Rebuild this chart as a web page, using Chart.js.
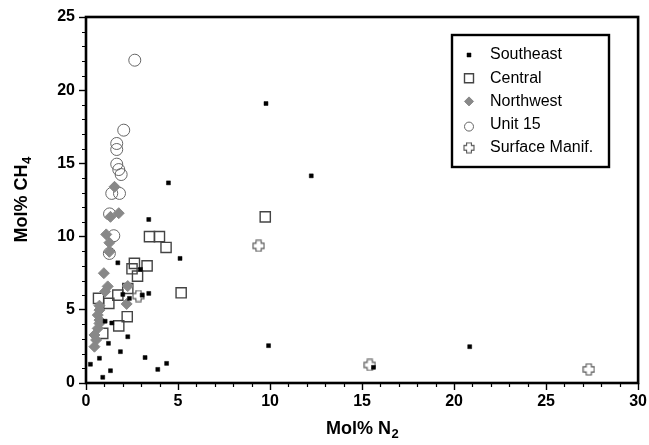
<!DOCTYPE html>
<html lang="en">
<head>
<meta charset="utf-8">
<title>Mol% CH4 vs Mol% N2</title>
<script src="https://cdn.jsdelivr.net/npm/chart.js@4.4.1/dist/chart.umd.min.js"></script>
<style>
  html, body { margin: 0; padding: 0; background: #fff; }
</style>
</head>
<body>
<canvas id="gasChart" width="649" height="445"></canvas>
<script>
// values, mol% N2 (x) and mol% CH4 (y)
var southeastN2  = [9.78, 12.24, 4.48, 3.41, 1.73, 5.11, 2.96, 2.00, 2.36, 3.05, 3.41, 1.04, 1.40, 2.27, 1.22, 1.87, 0.73, 3.21, 0.24, 1.33, 0.91, 3.90, 4.38, 9.92, 20.85, 15.62];
var southeastCH4 = [19.09, 14.15, 13.67, 11.17, 8.21, 8.51, 7.76, 6.05, 5.78, 6.00, 6.12, 4.22, 4.10, 3.16, 2.71, 2.14, 1.69, 1.74, 1.28, 0.84, 0.39, 0.93, 1.34, 2.55, 2.48, 1.07];

var centralN2  = [9.74, 3.45, 3.99, 4.35, 2.63, 2.50, 3.32, 2.80, 5.17, 2.27, 1.73, 0.68, 1.24, 2.24, 1.78, 0.91];
var centralCH4 = [11.35, 10.00, 10.00, 9.26, 8.17, 7.80, 8.00, 7.30, 6.16, 6.46, 6.00, 5.78, 5.44, 4.53, 3.90, 3.39];

var northwestN2  = [1.55, 1.33, 1.78, 1.10, 1.27, 1.27, 0.97, 1.18, 1.04, 2.27, 2.21, 0.73, 0.73, 0.64, 0.73, 0.73, 0.64, 0.46, 0.55, 0.46];
var northwestCH4 = [13.40, 11.35, 11.60, 10.15, 9.58, 8.96, 7.50, 6.60, 6.25, 6.62, 5.40, 5.28, 4.98, 4.64, 4.30, 4.07, 3.73, 3.28, 2.94, 2.48];

var unit15N2  = [2.65, 2.05, 1.67, 1.67, 1.67, 1.78, 1.91, 1.40, 1.82, 1.28, 1.51, 1.27];
var unit15CH4 = [22.05, 17.27, 16.36, 15.95, 14.95, 14.58, 14.24, 12.95, 12.95, 11.55, 10.06, 8.85];

var surfaceN2  = [2.85, 9.38, 15.42, 27.32];
var surfaceCH4 = [5.94, 9.37, 1.23, 0.93];

var xTicks = [0, 5, 10, 15, 20, 25, 30];
var yTicks = [0, 5, 10, 15, 20, 25];

function pairs(xs, ys) {
  return xs.map(function (x, i) { return { x: x, y: ys[i] }; });
}

// outlined "plus" marker used for the surface manifold samples
function makePlus(size, color) {
  var c = document.createElement('canvas');
  c.width = size; c.height = size;
  var g = c.getContext('2d');
  var m = size / 2, a = size * 0.2, l = size / 2 - 1;
  g.beginPath();
  g.moveTo(m - a, m - l); g.lineTo(m + a, m - l); g.lineTo(m + a, m - a);
  g.lineTo(m + l, m - a); g.lineTo(m + l, m + a); g.lineTo(m + a, m + a);
  g.lineTo(m + a, m + l); g.lineTo(m - a, m + l); g.lineTo(m - a, m + a);
  g.lineTo(m - l, m + a); g.lineTo(m - l, m - a); g.lineTo(m - a, m - a);
  g.closePath();
  g.fillStyle = '#fff'; g.fill();
  g.strokeStyle = color; g.lineWidth = 1.1; g.stroke();
  return c;
}
var plusImg = makePlus(13, '#555');
var plusSmall = makePlus(12, '#555');

var boldFont = "'Liberation Sans Narrow', 'Liberation Sans', Arial, sans-serif";
var plainFont = "'Liberation Sans', Arial, sans-serif";

// text with a real subscript, centred on (cx, cy)
function subText(ctx, main, sub, cx, cy) {
  ctx.font = 'bold 18px ' + boldFont;
  var w1 = ctx.measureText(main).width;
  ctx.font = 'bold 13px ' + boldFont;
  var w2 = ctx.measureText(sub).width;
  var x0 = cx - (w1 + w2) / 2;
  ctx.textBaseline = 'alphabetic';
  ctx.textAlign = 'left';
  ctx.font = 'bold 18px ' + boldFont;
  ctx.fillText(main, x0, cy + 6);
  ctx.font = 'bold 13px ' + boldFont;
  ctx.fillText(sub, x0 + w1 + 0.5, cy + 10);
}

// frame round the plot area, minor ticks and the axis titles
var framePlugin = {
  id: 'frame',
  afterDraw: function (chart) {
    var ctx = chart.ctx, a = chart.chartArea;
    var xs = chart.scales.x, ys = chart.scales.y;
    ctx.save();
    ctx.strokeStyle = '#000';
    ctx.lineWidth = 1.2;
    ctx.beginPath();
    for (var v = 0; v <= 30; v++) {
      if (v % 5 === 0) continue;
      var px = Math.round(xs.getPixelForValue(v)) + 0.5;
      ctx.moveTo(px, a.bottom); ctx.lineTo(px, a.bottom + 4);
    }
    for (var w = 0; w <= 25; w++) {
      if (w % 5 === 0) continue;
      var py = Math.round(ys.getPixelForValue(w)) + 0.5;
      ctx.moveTo(a.left, py); ctx.lineTo(a.left - 4, py);
    }
    ctx.stroke();
    ctx.lineWidth = 2.6;
    ctx.strokeRect(a.left, a.top, a.right - a.left, a.bottom - a.top);

    ctx.fillStyle = '#000';
    subText(ctx, 'Mol% N', '2', (a.left + a.right) / 2, 428);
    ctx.translate(21, (a.top + a.bottom) / 2);
    ctx.rotate(-Math.PI / 2);
    subText(ctx, 'Mol% CH', '4', 0, 0);
    ctx.restore();
  }
};

// boxed legend in the upper right
var boxLegend = {
  id: 'boxLegend',
  afterDraw: function (chart) {
    var ctx = chart.ctx;
    var bx = 452, by = 35, bw = 157, bh = 132;
    ctx.save();
    ctx.fillStyle = '#fff';
    ctx.fillRect(bx, by, bw, bh);
    ctx.lineWidth = 2.4;
    ctx.strokeStyle = '#000';
    ctx.strokeRect(bx, by, bw, bh);
    ctx.font = '16px ' + plainFont;
    ctx.textBaseline = 'middle';
    chart.data.datasets.forEach(function (ds, i) {
      var mx = 469, my = 55 + i * 23.2;
      ctx.lineWidth = ds.borderWidth;
      ctx.strokeStyle = ds.borderColor;
      ctx.fillStyle = ds.backgroundColor;
      var st = ds.pointStyle;
      ctx.beginPath();
      if (st === 'rect') {
        var s = ds.legendSize;
        ctx.rect(mx - s, my - s, 2 * s, 2 * s);
        ctx.fill(); ctx.stroke();
      } else if (st === 'rectRot') {
        var r = ds.legendSize;
        ctx.moveTo(mx, my - r); ctx.lineTo(mx + r, my); ctx.lineTo(mx, my + r); ctx.lineTo(mx - r, my);
        ctx.closePath(); ctx.fill(); ctx.stroke();
      } else if (st === 'circle') {
        ctx.arc(mx, my + 2, ds.legendSize, 0, Math.PI * 2);
        ctx.fill(); ctx.stroke();
      } else {
        ctx.drawImage(plusSmall, mx - 6, my - 6);
      }
      ctx.fillStyle = '#000';
      ctx.fillText(ds.label, 490, my);
    });
    ctx.restore();
  }
};

var ctx = document.getElementById('gasChart');
var gasChart = new Chart(ctx, {
  type: 'scatter',
  data: {
    datasets: [{
      label: 'Southeast',
      data: pairs(southeastN2, southeastCH4),
      pointStyle: 'rect', pointRadius: 2.8,
      backgroundColor: '#000', borderColor: '#000', borderWidth: 0.5,
      legendSize: 2, order: 0
    }, {
      label: 'Central',
      data: pairs(centralN2, centralCH4),
      pointStyle: 'rect', pointRadius: 7.2,
      backgroundColor: 'rgba(255,255,255,0)', borderColor: '#444', borderWidth: 1.4,
      legendSize: 4.5, order: 3
    }, {
      label: 'Northwest',
      data: pairs(northwestN2, northwestCH4),
      pointStyle: 'rectRot', pointRadius: 5.5,
      backgroundColor: '#888', borderColor: '#888', borderWidth: 1,
      legendSize: 4.5, order: 2
    }, {
      label: 'Unit 15',
      data: pairs(unit15N2, unit15CH4),
      pointStyle: 'circle', pointRadius: 6,
      backgroundColor: 'rgba(255,255,255,0)', borderColor: '#666', borderWidth: 1,
      legendSize: 4.5, order: 4
    }, {
      label: 'Surface Manif.',
      data: pairs(surfaceN2, surfaceCH4),
      pointStyle: plusImg, pointRadius: 6,
      backgroundColor: '#fff', borderColor: '#555', borderWidth: 1,
      legendSize: 6, order: 1
    }]
  },
  options: {
    responsive: false,
    animation: false,
    layout: { padding: { top: 17, right: 9, left: 0, bottom: 0 } },
    plugins: {
      legend: { display: false },
      tooltip: { enabled: false }
    },
    scales: {
      x: {
        type: 'linear', min: 0, max: 30,
        afterFit: function (s) { s.height = 62; },
        afterBuildTicks: function (s) { s.ticks = xTicks.map(function (v) { return { value: v }; }); },
        border: { display: false },
        grid: { drawOnChartArea: false, tickLength: 7, tickWidth: 1.4, tickColor: '#000' },
        ticks: { color: '#000', padding: 2, maxRotation: 0, font: { family: boldFont, size: 16, weight: 'bold' } }
      },
      y: {
        type: 'linear', min: 0, max: 25,
        afterFit: function (s) { s.width = 86; },
        afterBuildTicks: function (s) { s.ticks = yTicks.map(function (v) { return { value: v }; }); },
        border: { display: false },
        grid: { drawOnChartArea: false, tickLength: 7, tickWidth: 1.4, tickColor: '#000' },
        ticks: { color: '#000', padding: 4, font: { family: boldFont, size: 16, weight: 'bold' } }
      }
    }
  },
  plugins: [framePlugin, boxLegend]
});
</script>
</body>
</html>
